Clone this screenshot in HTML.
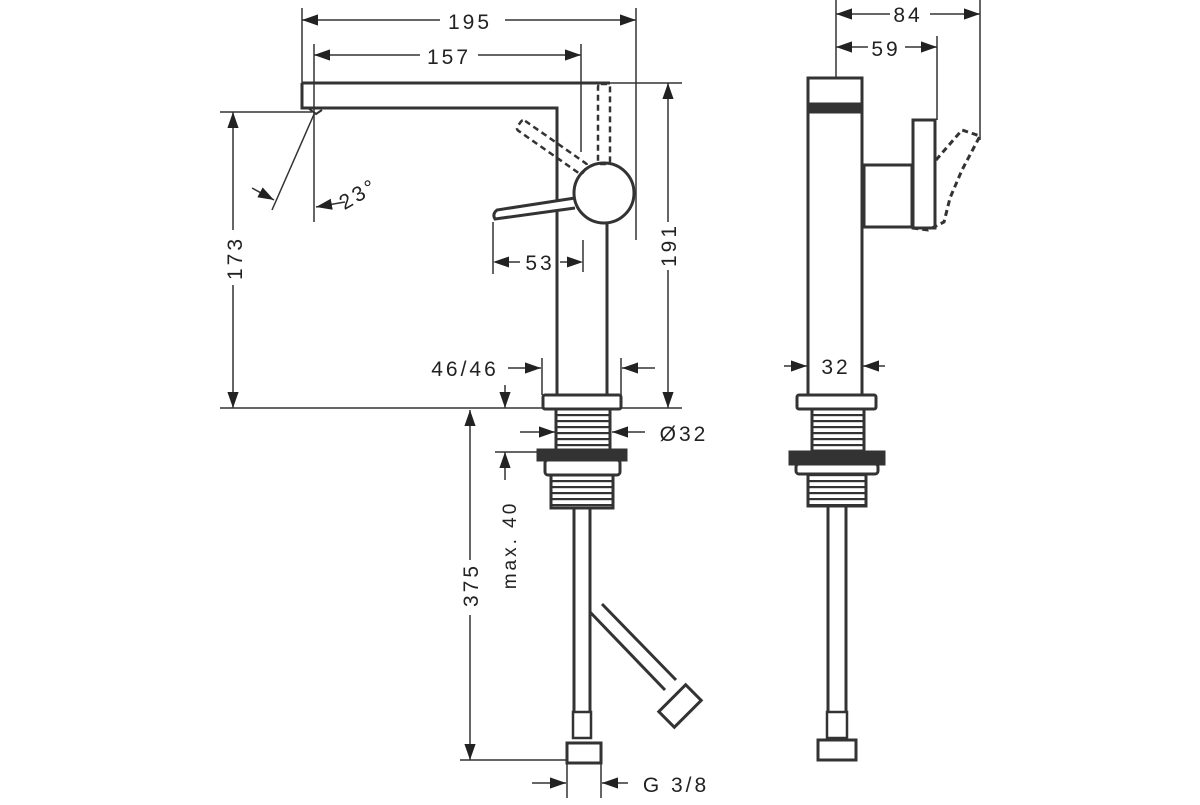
<!DOCTYPE html>
<html><head><meta charset="utf-8"><style>
html,body{margin:0;padding:0;background:#fff}
text{font-family:"Liberation Sans",sans-serif;font-size:21px;fill:#222;letter-spacing:3px}
</style></head><body>
<svg width="1200" height="800" viewBox="0 0 1200 800" xmlns="http://www.w3.org/2000/svg">
<defs>
<marker id="a" viewBox="0 0 10 10" refX="10" refY="5" markerWidth="16" markerHeight="16" markerUnits="userSpaceOnUse" orient="auto-start-reverse"><path d="M0,1.5L10,5L0,8.5z" fill="#222"/></marker>
<pattern id="th" width="10" height="6" patternUnits="userSpaceOnUse"><rect width="10" height="6" fill="#fff"/><rect width="10" height="2.2" fill="#333"/></pattern>
</defs>
<g stroke="#333" fill="none" stroke-width="1.5">
<line x1="302" y1="8" x2="302" y2="83"/><line x1="636" y1="8" x2="636" y2="240"/>
<line x1="314" y1="44" x2="314" y2="222"/><line x1="581" y1="44" x2="581" y2="152"/>
<line x1="302" y1="20" x2="440" y2="20" marker-start="url(#a)"/><line x1="505" y1="20" x2="636" y2="20" marker-end="url(#a)"/>
<line x1="314" y1="55" x2="420" y2="55" marker-start="url(#a)"/><line x1="478" y1="55" x2="581" y2="55" marker-end="url(#a)"/>
<line x1="610" y1="83" x2="682" y2="83"/>
<line x1="668" y1="83" x2="668" y2="222" marker-start="url(#a)"/><line x1="668" y1="270" x2="668" y2="408" marker-end="url(#a)"/>
<line x1="220" y1="112" x2="312" y2="112"/>
<line x1="233" y1="112" x2="233" y2="230" marker-start="url(#a)"/><line x1="233" y1="285" x2="233" y2="408" marker-end="url(#a)"/>
<line x1="220" y1="408" x2="545" y2="408"/><line x1="620" y1="408" x2="682" y2="408"/>
<line x1="315" y1="112" x2="272" y2="210"/>
<line x1="252" y1="188" x2="274" y2="200" marker-end="url(#a)"/>
<path d="M345,202 L316,207" marker-end="url(#a)"/>
<path d="M493,222 V274"/><path d="M583,240 V272"/>
<path d="M509,262 H520"/><path d="M560,262 H567"/>
<line x1="542" y1="358" x2="542" y2="395"/><line x1="621" y1="358" x2="621" y2="395"/>
<line x1="508" y1="368" x2="541" y2="368" marker-end="url(#a)"/><line x1="655" y1="368" x2="622" y2="368" marker-end="url(#a)"/>
<line x1="505" y1="385" x2="505" y2="408" marker-end="url(#a)"/>
<line x1="520" y1="432" x2="555" y2="432" marker-end="url(#a)"/><line x1="645" y1="432" x2="612" y2="432" marker-end="url(#a)"/>
<line x1="495" y1="452" x2="540" y2="452"/>
<line x1="505" y1="480" x2="505" y2="452" marker-end="url(#a)"/>
<line x1="470" y1="560" x2="470" y2="410" marker-end="url(#a)"/><line x1="470" y1="615" x2="470" y2="760" marker-end="url(#a)"/>
<line x1="460" y1="760" x2="568" y2="760"/>
<line x1="567" y1="762" x2="567" y2="798"/><line x1="601" y1="762" x2="601" y2="798"/>
<line x1="532" y1="783" x2="566" y2="783" marker-end="url(#a)"/><line x1="628" y1="783" x2="602" y2="783" marker-end="url(#a)"/>
<line x1="836" y1="0" x2="836" y2="78"/><line x1="980" y1="0" x2="980" y2="140"/><line x1="937" y1="36" x2="937" y2="120"/>
<line x1="836" y1="14" x2="890" y2="14" marker-start="url(#a)"/><line x1="930" y1="14" x2="980" y2="14" marker-end="url(#a)"/>
<line x1="836" y1="47" x2="868" y2="47" marker-start="url(#a)"/><line x1="905" y1="47" x2="937" y2="47" marker-end="url(#a)"/>
<line x1="784" y1="366" x2="807" y2="366" marker-end="url(#a)"/><line x1="885" y1="366" x2="863" y2="366" marker-end="url(#a)"/>
</g>
<g fill="#222"><path d="M493,262 L509,256.5 L509,267.5z"/><path d="M583,262 L567,256.5 L567,267.5z"/></g>
<path d="M302,83 H610 M302,83 V108 H557 V395 M607,222 V395" stroke="#333" stroke-width="3" fill="none"/>
<g stroke="#333" fill="#fff" stroke-width="3">
<path d="M308,108 L316,114 L322,110" stroke-width="2" fill="none"/>
<path d="M575,198 L497,210 Q492,214 495,219 L575,208" />
<circle cx="604" cy="193" r="30"/>
<rect x="543" y="395" width="78" height="14" rx="2"/>
<rect x="556" y="409" width="54" height="42" fill="url(#th)"/>
<rect x="538" y="450" width="88" height="10" fill="#333"/>
<rect x="545" y="460" width="75" height="15" rx="3"/>
<rect x="551" y="475" width="62" height="33" fill="url(#th)"/>
<line x1="574" y1="508" x2="574" y2="712"/><line x1="590" y1="508" x2="590" y2="712"/>
<rect x="573" y="712" width="18" height="26" stroke-width="2.5"/>
<rect x="567" y="743" width="34" height="20"/>
<line x1="590" y1="612" x2="665" y2="690"/><line x1="602" y1="604" x2="676" y2="680"/>
<g transform="translate(680,706) rotate(-45)"><rect x="-19" y="-11" width="38" height="22"/></g>
</g>
<g stroke="#333" fill="none" stroke-width="2.5" stroke-dasharray="6,4">
<rect x="598" y="84" width="12" height="80" rx="3"/>
<g transform="translate(552,147) rotate(35)"><rect x="-40" y="-6" width="80" height="12" rx="3"/></g>
</g>
<g stroke="#333" fill="#fff" stroke-width="3">
<rect x="808" y="78" width="54" height="317"/>
<rect x="808" y="104" width="54" height="8" fill="#333"/>
<rect x="864" y="165" width="48" height="62"/>
<rect x="913" y="120" width="22" height="108"/>
<rect x="797" y="395" width="79" height="14" rx="2"/>
<rect x="812" y="409" width="52" height="42" fill="url(#th)"/>
<rect x="790" y="452" width="94" height="12" fill="#333"/>
<rect x="796" y="464" width="82" height="10" rx="3"/>
<rect x="808" y="474" width="58" height="32" fill="url(#th)"/>
<line x1="828" y1="506" x2="828" y2="712"/><line x1="846" y1="506" x2="846" y2="712"/>
<rect x="827" y="712" width="20" height="26" stroke-width="2.5"/>
<rect x="818" y="740" width="38" height="20"/>
</g>
<path d="M936,160 L962,130 L980,136 L962,170 L950,198 L944,222 L928,230 L912,228" stroke="#333" stroke-width="3" fill="none" stroke-dasharray="6,4"/>
<text x="470" y="29" text-anchor="middle">195</text>
<text x="449" y="64" text-anchor="middle">157</text>
<text transform="translate(362,200) rotate(-30)" text-anchor="middle">23°</text>
<text x="540" y="270" text-anchor="middle">53</text>
<text x="465" y="376" text-anchor="middle">46/46</text>
<text x="684" y="441" text-anchor="middle">Ø32</text>
<text x="676" y="792" text-anchor="middle">G 3/8</text>
<text transform="translate(676,245) rotate(-90)" text-anchor="middle">191</text>
<text transform="translate(242,258) rotate(-90)" text-anchor="middle">173</text>
<text transform="translate(478,585) rotate(-90)" text-anchor="middle">375</text>
<text transform="translate(516,545) rotate(-90)" text-anchor="middle" style="font-size:19px">max. 40</text>
<text x="908" y="22" text-anchor="middle">84</text>
<text x="886" y="56" text-anchor="middle">59</text>
<text x="836" y="374" text-anchor="middle">32</text>
</svg>
</body></html>
